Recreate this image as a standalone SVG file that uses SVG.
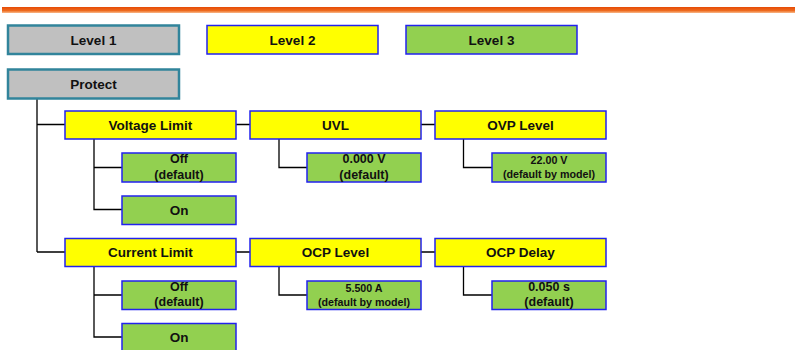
<svg xmlns="http://www.w3.org/2000/svg" width="795" height="350" viewBox="0 0 795 350">
<defs>
<linearGradient id="og" x1="0" y1="0" x2="0" y2="1">
<stop offset="0" stop-color="#E64A05"/>
<stop offset="0.6" stop-color="#EE6A1E"/>
<stop offset="1" stop-color="#F9B98A"/>
</linearGradient>
</defs>
<style>
.l1{fill:#C0C0C0;stroke:#31849B;stroke-width:2.5}
.l2{fill:#FFFF00;stroke:#2222EE;stroke-width:1.5}
.l3{fill:#92D050;stroke:#2222EE;stroke-width:1.5}
text{font-family:"Liberation Sans",Arial,sans-serif;font-weight:bold;fill:#111;text-anchor:middle}
.t{font-size:13.5px}
.s{font-size:12.5px}
.xs{font-size:10.7px}
.c{fill:none;stroke:#000;stroke-width:1.3}
</style>
<rect x="2" y="7" width="793" height="6" fill="url(#og)"/>
<g id="connectors">
<path class="c" d="M37 99V252M37 124.5H65M37 252H65"/>
<path class="c" d="M94 139V209.5H122M94 167.5H122"/>
<path class="c" d="M94 266V337H122M94 295H122"/>
<path class="c" d="M236 124.5H250M421 124.5H435M236 252H250M421 252H435"/>
<path class="c" d="M279 139V167.5H307M463.5 139V167.5H492"/>
<path class="c" d="M279 266V295H307M463.5 266V295H492"/>
</g>
<g id="legend1"><rect class="l1" x="8" y="25.5" width="171" height="28.5"/><text class="t" x="93.5" y="45">Level 1</text></g>
<g id="legend2"><rect class="l2" x="207" y="25.5" width="171" height="28.5"/><text class="t" x="292.5" y="45">Level 2</text></g>
<g id="legend3"><rect class="l3" x="406" y="25.5" width="171" height="28.5"/><text class="t" x="491.5" y="45">Level 3</text></g>
<g id="protect"><rect class="l1" x="8" y="69.5" width="171" height="29"/><text class="t" x="93.5" y="89">Protect</text></g>
<g id="voltage-limit"><rect class="l2" x="65" y="111" width="171" height="28"/><text class="t" x="150.5" y="129.5">Voltage Limit</text></g>
<g id="uvl"><rect class="l2" x="250" y="111" width="171" height="28"/><text class="t" x="335.5" y="129.5">UVL</text></g>
<g id="ovp-level"><rect class="l2" x="435" y="111" width="171" height="28"/><text class="t" x="520.5" y="129.5">OVP Level</text></g>
<g id="vl-off"><rect class="l3" x="122" y="153" width="114" height="29"/><text class="s" x="179" y="163">Off</text><text class="s" x="179" y="178.5">(default)</text></g>
<g id="vl-on"><rect class="l3" x="122" y="196" width="114" height="28.5"/><text class="t" x="179" y="214.5">On</text></g>
<g id="uvl-val"><rect class="l3" x="307" y="153" width="114" height="29"/><text class="s" x="364" y="163">0.000 V</text><text class="s" x="364" y="178.5">(default)</text></g>
<g id="ovp-val"><rect class="l3" x="492" y="153" width="114" height="29"/><text class="xs" x="549" y="164">22.00 V</text><text class="xs" x="549" y="177.5">(default by model)</text></g>
<g id="current-limit"><rect class="l2" x="65" y="238.5" width="171" height="28"/><text class="t" x="150.5" y="257">Current Limit</text></g>
<g id="ocp-level"><rect class="l2" x="250" y="238.5" width="171" height="28"/><text class="t" x="335.5" y="257">OCP Level</text></g>
<g id="ocp-delay"><rect class="l2" x="435" y="238.5" width="171" height="28"/><text class="t" x="520.5" y="257">OCP Delay</text></g>
<g id="cl-off"><rect class="l3" x="122" y="281" width="114" height="28.5"/><text class="s" x="179" y="291">Off</text><text class="s" x="179" y="306">(default)</text></g>
<g id="cl-on"><rect class="l3" x="122" y="323.5" width="114" height="29"/><text class="t" x="179" y="342">On</text></g>
<g id="ocp-level-val"><rect class="l3" x="307" y="281" width="114" height="28.5"/><text class="xs" x="364" y="292">5.500 A</text><text class="xs" x="364" y="305.5">(default by model)</text></g>
<g id="ocp-delay-val"><rect class="l3" x="492" y="281" width="114" height="28.5"/><text class="s" x="549" y="291">0.050 s</text><text class="s" x="549" y="306">(default)</text></g>
</svg>
